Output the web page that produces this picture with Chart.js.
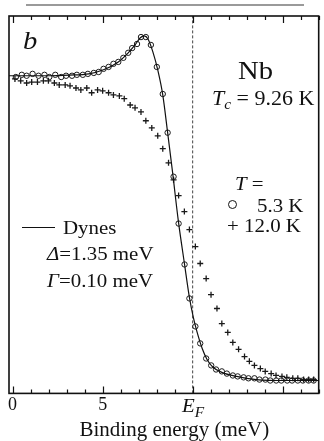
<!DOCTYPE html>
<html>
<head>
<meta charset="utf-8">
<script src="https://cdn.jsdelivr.net/npm/chart.js@4.4.0/dist/chart.umd.min.js"></script>
<style>
  html, body { margin: 0; padding: 0; background: #fff; }
  #wrap { position: relative; width: 324px; height: 441px; overflow: hidden; font-family: 'Liberation Serif', 'DejaVu Serif', serif; color: #111; }
  #chart { position: absolute; left: 0; top: 0; }
  .lbl { position: absolute; white-space: nowrap; line-height: 1; transform-origin: 0 0; transform: scaleX(1.1); }
  .rule { position: absolute; left: 26px; top: 4px; width: 278px; height: 2px; background: #9a9a9a; }
  .dot { position: absolute; left: 228px; top: 200px; width: 7px; height: 7px; border: 1.4px solid #111; border-radius: 50%; }
  .sample { position: absolute; left: 22px; top: 227px; width: 33px; height: 1.4px; background: #111; }
  i { font-style: italic; }
</style>
</head>
<body>
<div id="wrap">
  <canvas id="chart" width="324" height="441"></canvas>
  <div class="rule"></div>
  <div class="lbl" style="left:23px; top:28px; font-size:26px;"><i>b</i></div>
  <div class="lbl" style="left:238px; top:58px; font-size:26px;">Nb</div>
  <div class="lbl" style="left:212px; top:88px; font-size:20px;"><i>T</i><i style="font-size:14px; position:relative; top:4px;">c</i> = 9.26 K</div>
  <div class="lbl" style="left:235px; top:174px; font-size:19px;"><i>T</i> =</div>
  <div class="dot"></div>
  <div class="lbl" style="left:257px; top:196px; font-size:19px;">5.3 K</div>
  <div class="lbl" style="left:227px; top:216px; font-size:19px;">+ 12.0 K</div>
  <div class="sample"></div>
  <div class="lbl" style="left:63px; top:218px; font-size:19px;">Dynes</div>
  <div class="lbl" style="left:47px; top:244px; font-size:19px;"><i>Δ</i>=1.35 meV</div>
  <div class="lbl" style="left:47px; top:271px; font-size:19px;"><i>Γ</i>=0.10 meV</div>
  <div class="lbl" style="left:182px; top:396px; font-size:19px;"><i>E</i><i style="font-size:14px; position:relative; top:5px;">F</i></div>
</div>
<script>
// binding energy (meV), Fermi level sits at 10 on this axis
const fermiLevel = 10
const xMin = -0.2
const xMax = 17
const tickLabels = { 0: '0', 5: '5' }
const majorTicks = [0, 5, 10, 15]
const minorTicks = [0, 1, 2, 3, 4, 5, 6, 7, 8, 9, 10, 11, 12, 13, 14, 15, 16, 17]

// T = 5.3 K (circles)
const circleX = [0.18, 0.51, 0.78, 1.11, 1.44, 1.77, 2.04, 2.37, 2.70, 2.97, 3.30, 3.57, 3.90, 4.18, 4.51,
    4.78, 5.05, 5.33, 5.60, 5.87, 6.15, 6.42, 6.64, 6.91, 7.13, 7.40, 7.68, 8.01, 8.34, 8.61,
    8.94, 9.22, 9.55, 9.82, 10.15, 10.42, 10.75, 11.03, 11.30, 11.62, 11.90, 12.23, 12.50, 12.83, 13.10,
    13.43, 13.71, 14.04, 14.31, 14.64, 14.92, 15.25, 15.52, 15.84, 16.12, 16.44, 16.72]
const circleY = [1.006, 1.013, 1.010, 1.016, 1.010, 1.013, 1.006, 1.013, 1.006, 1.010, 1.010, 1.013, 1.013, 1.016, 1.019,
    1.022, 1.032, 1.038, 1.048, 1.054, 1.067, 1.083, 1.098, 1.111, 1.133, 1.133, 1.108, 1.038, 0.952, 0.829,
    0.689, 0.540, 0.410, 0.302, 0.213, 0.159, 0.111, 0.089, 0.076, 0.070, 0.063, 0.057, 0.054, 0.051, 0.048,
    0.048, 0.044, 0.044, 0.041, 0.041, 0.041, 0.041, 0.041, 0.041, 0.041, 0.041, 0.041]

// T = 12.0 K (crosses)
const crossX = [0.13, 0.45, 0.78, 1.06, 1.38, 1.71, 1.99, 2.32, 2.59, 2.92, 3.19, 3.52, 3.79, 4.12, 4.39,
    4.72, 5.00, 5.33, 5.60, 5.93, 6.20, 6.53, 6.80, 7.13, 7.40, 7.73, 8.06, 8.34, 8.66, 8.94,
    9.22, 9.54, 9.82, 10.15, 10.42, 10.75, 11.02, 11.35, 11.62, 11.95, 12.23, 12.55, 12.88, 13.15, 13.43,
    13.76, 14.03, 14.36, 14.63, 14.96, 15.23, 15.56, 15.84, 16.16, 16.44, 16.72]
const crossY = [1.000, 0.994, 0.987, 0.990, 0.990, 0.994, 0.994, 0.987, 0.981, 0.981, 0.978, 0.971, 0.965, 0.971, 0.956,
    0.965, 0.962, 0.956, 0.949, 0.946, 0.937, 0.917, 0.908, 0.895, 0.867, 0.844, 0.819, 0.778, 0.733, 0.679,
    0.629, 0.578, 0.521, 0.467, 0.413, 0.365, 0.314, 0.270, 0.222, 0.194, 0.162, 0.140, 0.117, 0.102, 0.089,
    0.079, 0.070, 0.063, 0.057, 0.054, 0.051, 0.048, 0.048, 0.044, 0.044, 0.044]

// Dynes fit, delta = 1.35 meV, gamma = 0.10 meV
const fitX = [-0.2, 0.95, 2.04, 3.14, 4.23, 5.05, 5.87, 6.42, 6.80, 7.08, 7.30, 7.52, 7.79, 8.06, 8.34,
    8.61, 8.88, 9.21, 9.55, 9.82, 10.04, 10.25, 10.53, 10.80, 11.13, 11.62, 12.44, 13.54, 15.18, 17.0]
const fitY = [1.010, 1.010, 1.010, 1.012, 1.016, 1.029, 1.054, 1.083, 1.108, 1.130, 1.137, 1.127, 1.086, 1.029, 0.949,
    0.829, 0.705, 0.546, 0.410, 0.305, 0.241, 0.194, 0.143, 0.108, 0.083, 0.067, 0.054, 0.044, 0.041, 0.041]

const yMin = 0
const yMax = 1.2

const pts = (xs, ys) => xs.map((x, i) => ({ x: x, y: ys[i] }))

// frame plus inward ticks on bottom and top
const framePlugin = {
    id: 'frame',
    afterDraw(chart) {
        const { ctx, chartArea: a, scales } = chart
        ctx.save()
        ctx.strokeStyle = '#111'
        ctx.lineWidth = 1.2
        ctx.beginPath()
        minorTicks.forEach((v) => {
            const px = Math.round(scales.x.getPixelForValue(v)) + 0.5
            const len = majorTicks.includes(v) ? 7 : 4
            ctx.moveTo(px, a.bottom)
            ctx.lineTo(px, a.bottom - len)
            ctx.moveTo(px, a.top)
            ctx.lineTo(px, a.top + len)
        })
        ctx.stroke()
        ctx.lineWidth = 1.6
        ctx.strokeRect(a.left, a.top, a.right - a.left, a.bottom - a.top)
        ctx.restore()
    },
}

new Chart(document.getElementById('chart'), {
    type: 'scatter',
    data: {
        datasets: [
            {
                label: 'Dynes',
                data: pts(fitX, fitY),
                showLine: true,
                borderColor: '#111',
                borderWidth: 1.2,
                pointRadius: 0,
                cubicInterpolationMode: 'monotone',
            },
            {
                label: '5.3 K',
                data: pts(circleX, circleY),
                pointStyle: 'circle',
                pointRadius: 2.7,
                borderWidth: 1,
                borderColor: '#1a1a1a',
                backgroundColor: 'rgba(0,0,0,0)',
            },
            {
                label: '12.0 K',
                data: pts(crossX, crossY),
                pointStyle: 'cross',
                pointRadius: 3,
                borderWidth: 1.3,
                borderColor: '#1a1a1a',
            },
            {
                label: 'EF',
                data: pts([fermiLevel, fermiLevel], [yMin, yMax]),
                showLine: true,
                borderColor: '#444',
                borderWidth: 1,
                borderDash: [3, 2],
                pointRadius: 0,
            },
        ],
    },
    options: {
        responsive: false,
        animation: false,
        devicePixelRatio: 1,
        layout: { padding: { left: 9, right: 1, top: 16, bottom: 3 } },
        plugins: { legend: { display: false }, tooltip: { enabled: false } },
        scales: {
            x: {
                type: 'linear',
                min: xMin,
                max: xMax,
                grid: { display: false, drawTicks: false },
                border: { display: false },
                ticks: {
                    stepSize: 5,
                    includeBounds: false,
                    autoSkip: false,
                    maxRotation: 0,
                    padding: 7,
                    color: '#111',
                    font: { family: 'Liberation Serif', size: 18, lineHeight: 0.5 },
                    callback: (v) => tickLabels[v] || '',
                },
                title: {
                    display: true,
                    text: '    Binding energy (meV)',
                    color: '#111',
                    padding: { top: 8, bottom: 1 },
                    font: { family: 'Liberation Serif', size: 21, lineHeight: 0.6 },
                },
            },
            y: { display: false, min: yMin, max: yMax },
        },
    },
    plugins: [framePlugin],
})
</script>
</body>
</html>
